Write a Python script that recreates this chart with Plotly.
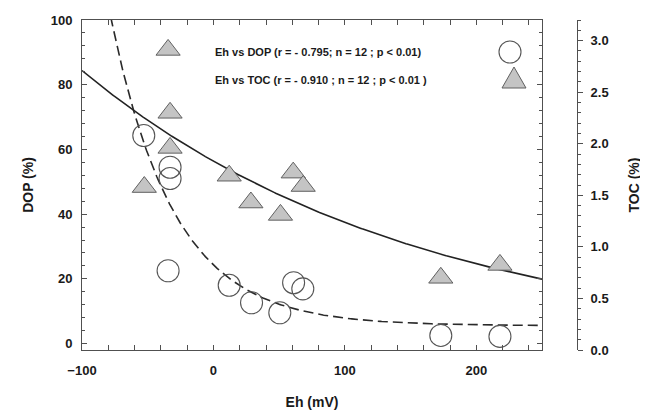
import numpy as np
import plotly.graph_objects as go

# ---- data ----
eh_dop = [-53, -33, -33, -34.5, 12, 29, 50.5, 61, 68, 173, 218]
dop = [64.3, 54.5, 51.0, 22.5, 18.0, 12.6, 9.5, 18.8, 16.9, 2.5, 2.2]

eh_toc = [-34.5, -33, -33, -52.6, 12, 28.5, 51, 60.7, 68.3, 173, 218]
toc = [2.91, 2.30, 1.96, 1.58, 1.69, 1.43, 1.31, 1.72, 1.59, 0.70, 0.825]

# exponential fit parameters
dop_fit = {"c": 5.5, "a": 18.8, "b": -0.0208}   # DOP = c + a*exp(b*Eh)
toc_fit = {"a": 1.831, "b": -0.00392}            # TOC = a*exp(b*Eh)

legend_labels = [
    "Eh vs DOP (r = - 0.795; n = 12 ; p < 0.01)",
    "Eh vs TOC (r = - 0.910 ; n = 12 ; p < 0.01 )",
]

x_ticks = [-100, 0, 100, 200]
y_ticks = [0, 20, 40, 60, 80, 100]
y2_ticks = [0.0, 0.5, 1.0, 1.5, 2.0, 2.5, 3.0]

FONT = "Liberation Sans, Arial, sans-serif"
AX = "#505050"
TXT = "#1a1a1a"

xs = np.linspace(-100, 250, 400)
dop_curve = dop_fit["c"] + dop_fit["a"] * np.exp(dop_fit["b"] * xs)
toc_curve = toc_fit["a"] * np.exp(toc_fit["b"] * xs)

fig = go.Figure()
fig.add_trace(go.Scatter(x=xs, y=toc_curve, mode="lines", yaxis="y2",
                         line=dict(color="#222222", width=1.6), showlegend=False, hoverinfo="skip"))
fig.add_trace(go.Scatter(x=xs, y=dop_curve, mode="lines",
                         line=dict(color="#2a2a2a", width=1.6, dash="10px,5px"), showlegend=False, hoverinfo="skip"))
fig.add_trace(go.Scatter(x=eh_toc, y=toc, mode="markers", yaxis="y2", name=legend_labels[1],
                         marker=dict(symbol="triangle-up", size=21, color="#c4c4c4",
                                     line=dict(color="#606060", width=1)), showlegend=False))
fig.add_trace(go.Scatter(x=eh_dop, y=dop, mode="markers", name=legend_labels[0],
                         marker=dict(symbol="circle-open", size=22, color="#555555",
                                     line=dict(color="#555555", width=1.1)), showlegend=False))

OFF = 8  # default page body margin
W, H = 648 - OFF, 413 - OFF
ml, mr, mt, mb = 82 - OFF, 71, 20 - OFF, 63
pw = W - ml - mr
ph = H - mt - mb
xdom_end = (542 - OFF - ml) / pw

def px_x(p):
    return (p - OFF - ml) / pw

def px_y(p):
    return (H - mb - (p - OFF)) / ph

# legend texts
fig.add_annotation(x=px_x(213), y=px_y(52), xref="paper", yref="paper", text=legend_labels[0],
                   showarrow=False, xanchor="left", yanchor="middle",
                   font=dict(family=FONT, size=11, color=TXT, weight="bold"))
fig.add_annotation(x=px_x(213), y=px_y(80), xref="paper", yref="paper", text=legend_labels[1],
                   showarrow=False, xanchor="left", yanchor="middle",
                   font=dict(family=FONT, size=11, color=TXT, weight="bold"))
# legend symbols
fig.add_shape(type="circle", xref="paper", yref="paper", xsizemode="pixel", ysizemode="pixel",
              xanchor=px_x(510), yanchor=px_y(52), x0=-11, x1=11, y0=-11, y1=11,
              line=dict(color="#555555", width=1.1), fillcolor="rgba(0,0,0,0)")
fig.add_shape(type="path", xref="paper", yref="paper", xsizemode="pixel", ysizemode="pixel",
              xanchor=px_x(514), yanchor=px_y(81), path="M-12,-7 L12,-7 L0,14 Z",
              line=dict(color="#606060", width=1), fillcolor="#c4c4c4")

tickfont = dict(family=FONT, size=13, color=TXT, weight="bold")
titlefont = dict(family=FONT, size=14, color=TXT, weight="bold")

fig.update_layout(
    width=W, height=H,
    margin=dict(l=ml, r=mr, t=mt, b=mb),
    paper_bgcolor="white", plot_bgcolor="white",
    showlegend=False,
    xaxis=dict(domain=[0, xdom_end], range=[-100, 250], tickvals=x_ticks, automargin=False,
               ticks="inside", ticklen=5, tickwidth=1, tickcolor=AX,
               showline=True, linecolor=AX, linewidth=1, mirror="allticks",
               showgrid=False, zeroline=False, tickfont=tickfont, ticklabelstandoff=8,
               minor=dict(dtick=20, tick0=-100, ticks="inside", ticklen=3, tickcolor=AX, showgrid=False),
               title=dict(text="Eh (mV)", font=titlefont, standoff=20)),
    yaxis=dict(range=[-2, 100], tickvals=y_ticks, automargin=False,
               ticks="inside", ticklen=5, tickwidth=1, tickcolor=AX,
               showline=True, linecolor=AX, linewidth=1, mirror="allticks",
               showgrid=False, zeroline=False, tickfont=tickfont, ticklabelstandoff=6,
               minor=dict(dtick=4, tick0=0, ticks="inside", ticklen=3, tickcolor=AX, showgrid=False),
               title=dict(text="DOP (%)", font=titlefont, standoff=13)),
    yaxis2=dict(range=[0, 3.2], tickvals=y2_ticks, tickformat=".1f", automargin=False,
                overlaying="y", anchor="free", position=1, side="right",
                ticks="outside", ticklen=5, tickwidth=1, tickcolor=AX,
                showline=True, linecolor=AX, linewidth=1,
                showgrid=False, zeroline=False, tickfont=tickfont, ticklabelstandoff=5,
                minor=dict(dtick=0.1, tick0=0, ticks="outside", ticklen=3, tickcolor=AX, showgrid=False),
                title=dict(text="TOC (%)", font=titlefont, standoff=21)),
)

fig.write_html("out.html")
